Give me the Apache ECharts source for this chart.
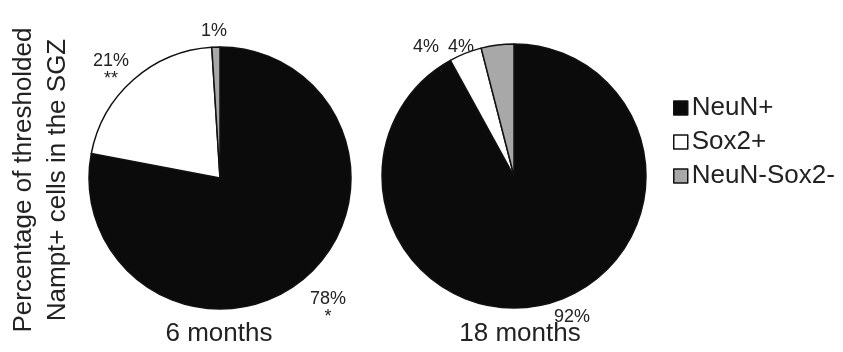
<!DOCTYPE html>
<html>
<head>
<meta charset="utf-8">
<script src="https://cdn.jsdelivr.net/npm/echarts@6/dist/echarts.min.js"></script>
<style>
html,body{margin:0;padding:0;background:#fff;}
#c{width:843px;height:352px;}
</style>
</head>
<body>
<div id="c"></div>
<script>
// ---- data ----
var groups = ['6 months', '18 months'];
var categories = ['NeuN+', 'Sox2+', 'NeuN-Sox2-'];
var values6 = [78, 21, 1];
var values18 = [92, 4, 4];
var sig6 = ['*', '**', ''];
var yTitle = ['Percentage of thresholded', 'Nampt+ cells in the SGZ'];

var colors = ['#0b0b0b', '#ffffff', '#a8a8a8'];
var font = 'Liberation Sans, Arial, sans-serif';

function pct(v, s) { return v + '%' + (s ? '\n' + s : ''); }

function mkData(vals) {
  return vals.map(function (v, i) {
    return {
      name: categories[i], value: v,
      itemStyle: { color: colors[i], borderColor: '#111', borderWidth: 1.5 }
    };
  });
}

var chart = echarts.init(document.getElementById('c'), null, { renderer: 'canvas' });

var labelStyle = { fontFamily: font, fontSize: 18, color: '#222', textAlign: 'center', lineHeight: 18 };

chart.setOption({
  animation: false,
  color: colors,
  legend: {
    orient: 'vertical', left: 668, top: 90,
    itemWidth: 14, itemHeight: 14, itemGap: 8,
    textStyle: { fontFamily: font, fontSize: 26, color: '#222', padding: [0, 0, 0, -1] },
    data: categories.map(function (c, i) {
      return { name: c, icon: 'rect', itemStyle: { color: colors[i], borderColor: '#111', borderWidth: 1.5 } };
    })
  },
  series: [
    {
      type: 'pie', center: [220, 178], radius: 131, startAngle: 90, clockwise: true,
      label: { show: false }, labelLine: { show: false }, emphasis: { disabled: true },
      data: mkData(values6)
    },
    {
      type: 'pie', center: [514, 176], radius: 132, startAngle: 90, clockwise: true,
      label: { show: false }, labelLine: { show: false }, emphasis: { disabled: true },
      data: mkData(values18)
    }
  ],
  graphic: [
    { type: 'text', x: 24, y: 180, rotation: Math.PI / 2, style: { text: yTitle[0], font: '26px ' + font, fill: '#222', textAlign: 'center', textVerticalAlign: 'middle' } },
    { type: 'text', x: 58, y: 180, rotation: Math.PI / 2, style: { text: yTitle[1], font: '26px ' + font, fill: '#222', textAlign: 'center', textVerticalAlign: 'middle' } },
    { type: 'text', x: 219, y: 334, style: { text: groups[0], font: '26px ' + font, fill: '#222', textAlign: 'center', textVerticalAlign: 'middle' } },
    { type: 'text', x: 520, y: 334, style: { text: groups[1], font: '26px ' + font, fill: '#222', textAlign: 'center', textVerticalAlign: 'middle' } },
    // 6 months labels
    { type: 'text', x: 328, y: 290, style: Object.assign({ text: pct(values6[0], sig6[0]), font: '18px ' + font, fill: '#222', textAlign: 'center' }) },
    { type: 'text', x: 111, y: 52, style: { text: pct(values6[1], sig6[1]), font: '18px ' + font, fill: '#222', textAlign: 'center' } },
    { type: 'text', x: 214, y: 22, style: { text: pct(values6[2], sig6[2]), font: '18px ' + font, fill: '#222', textAlign: 'center' } },
    // 18 months labels
    { type: 'text', x: 572, y: 308, style: { text: pct(values18[0]), font: '18px ' + font, fill: '#222', textAlign: 'center' } },
    { type: 'text', x: 426, y: 38, style: { text: pct(values18[1]), font: '18px ' + font, fill: '#222', textAlign: 'center' } },
    { type: 'text', x: 461, y: 38, style: { text: pct(values18[2]), font: '18px ' + font, fill: '#222', textAlign: 'center' } }
  ]
});
</script>
</body>
</html>
